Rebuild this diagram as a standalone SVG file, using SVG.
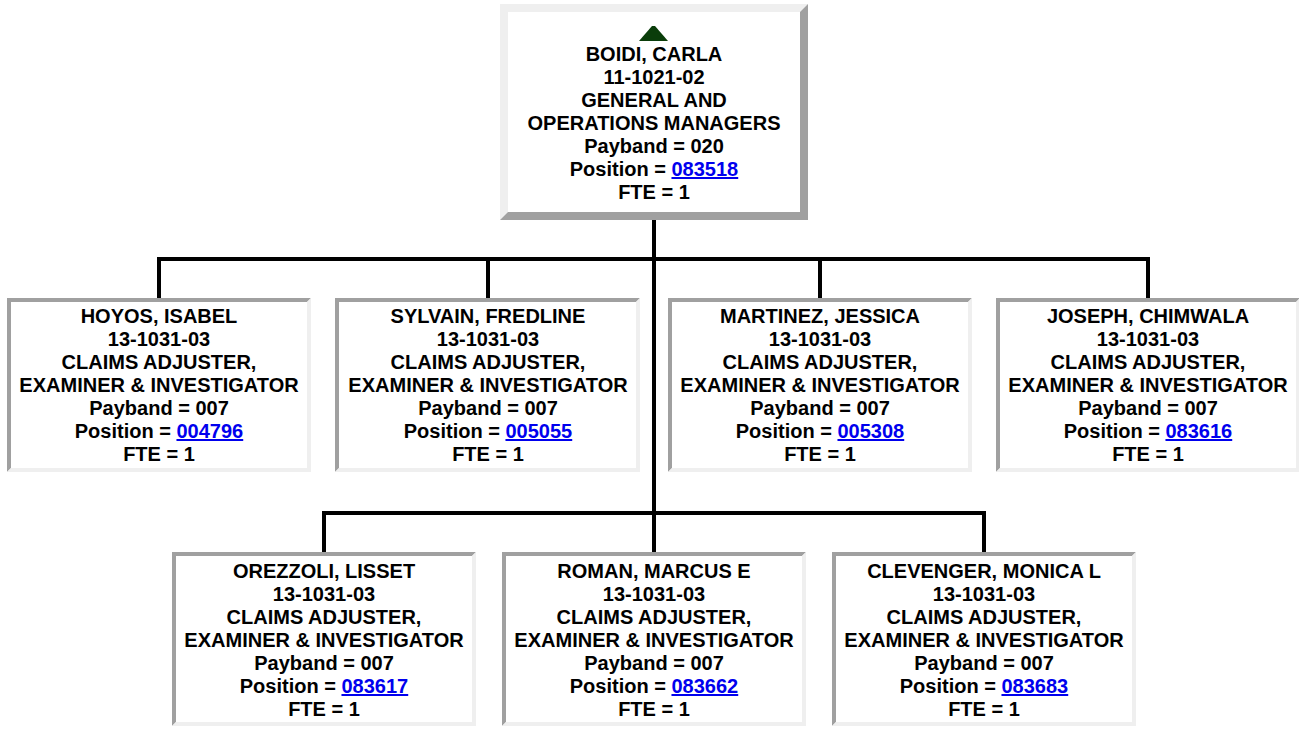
<svg xmlns="http://www.w3.org/2000/svg" width="1299" height="729" viewBox="0 0 1299 729">
<style>
.lt{fill:#efefef}
.dk{fill:#a0a0a0}
.bg{fill:#ffffff}
text{font-family:"Liberation Sans",Arial,sans-serif;font-weight:bold;font-size:20px;fill:#000;text-anchor:middle}
.lnk{fill:#0000ee;text-decoration:underline}
.conn{fill:none;stroke:#000;stroke-width:4;stroke-linejoin:miter;stroke-linecap:butt}
</style>
<rect width="1299" height="729" fill="#fff"/>
<g id="connectors">
<path class="conn" d="M654 220 V552"/>
<path class="conn" d="M159 298 V259 H1148 V298"/>
<path class="conn" d="M488 259 V298"/>
<path class="conn" d="M820 259 V298"/>
<path class="conn" d="M324 552 V513 H984 V552"/>
</g>
<g id="node-boidi">
<rect class="bg" x="500" y="4" width="308" height="216"/>
<path class="lt" d="M500 4 H808 L800 12 H508 V212 L500 220 Z"/>
<path class="dk" d="M808 4 V220 H500 L508 212 H800 V12 Z"/>
<polygon points="639,41 668,41 655,26 652,26" fill="#0a3d0a"/>
<text x="654" y="61">BOIDI, CARLA</text>
<text x="654" y="84">11-1021-02</text>
<text x="654" y="107">GENERAL AND</text>
<text x="654" y="130">OPERATIONS MANAGERS</text>
<text x="654" y="153">Payband = 020</text>
<text x="654" y="176">Position = <tspan class="lnk">083518</tspan></text>
<text x="654" y="199">FTE = 1</text>
</g>
<g id="node-hoyos">
<rect class="bg" x="7" y="298" width="304" height="174"/>
<path class="dk" d="M7 298 H311 L307 302 H11 V468 L7 472 Z"/>
<path class="lt" d="M311 298 V472 H7 L11 468 H307 V302 Z"/>
<text x="159" y="323">HOYOS, ISABEL</text>
<text x="159" y="346">13-1031-03</text>
<text x="159" y="369">CLAIMS ADJUSTER,</text>
<text x="159" y="392">EXAMINER &amp; INVESTIGATOR</text>
<text x="159" y="415">Payband = 007</text>
<text x="159" y="438">Position = <tspan class="lnk">004796</tspan></text>
<text x="159" y="461">FTE = 1</text>
</g>
<g id="node-sylvain">
<rect class="bg" x="335" y="298" width="305" height="174"/>
<path class="dk" d="M335 298 H640 L636 302 H339 V468 L335 472 Z"/>
<path class="lt" d="M640 298 V472 H335 L339 468 H636 V302 Z"/>
<text x="488" y="323">SYLVAIN, FREDLINE</text>
<text x="488" y="346">13-1031-03</text>
<text x="488" y="369">CLAIMS ADJUSTER,</text>
<text x="488" y="392">EXAMINER &amp; INVESTIGATOR</text>
<text x="488" y="415">Payband = 007</text>
<text x="488" y="438">Position = <tspan class="lnk">005055</tspan></text>
<text x="488" y="461">FTE = 1</text>
</g>
<g id="node-martinez">
<rect class="bg" x="668" y="298" width="304" height="174"/>
<path class="dk" d="M668 298 H972 L968 302 H672 V468 L668 472 Z"/>
<path class="lt" d="M972 298 V472 H668 L672 468 H968 V302 Z"/>
<text x="820" y="323">MARTINEZ, JESSICA</text>
<text x="820" y="346">13-1031-03</text>
<text x="820" y="369">CLAIMS ADJUSTER,</text>
<text x="820" y="392">EXAMINER &amp; INVESTIGATOR</text>
<text x="820" y="415">Payband = 007</text>
<text x="820" y="438">Position = <tspan class="lnk">005308</tspan></text>
<text x="820" y="461">FTE = 1</text>
</g>
<g id="node-joseph">
<rect class="bg" x="996" y="298" width="304" height="174"/>
<path class="dk" d="M996 298 H1300 L1296 302 H1000 V468 L996 472 Z"/>
<path class="lt" d="M1300 298 V472 H996 L1000 468 H1296 V302 Z"/>
<text x="1148" y="323">JOSEPH, CHIMWALA</text>
<text x="1148" y="346">13-1031-03</text>
<text x="1148" y="369">CLAIMS ADJUSTER,</text>
<text x="1148" y="392">EXAMINER &amp; INVESTIGATOR</text>
<text x="1148" y="415">Payband = 007</text>
<text x="1148" y="438">Position = <tspan class="lnk">083616</tspan></text>
<text x="1148" y="461">FTE = 1</text>
</g>
<g id="node-orezzoli">
<rect class="bg" x="172" y="552" width="304" height="174"/>
<path class="dk" d="M172 552 H476 L472 556 H176 V722 L172 726 Z"/>
<path class="lt" d="M476 552 V726 H172 L176 722 H472 V556 Z"/>
<text x="324" y="578">OREZZOLI, LISSET</text>
<text x="324" y="601">13-1031-03</text>
<text x="324" y="624">CLAIMS ADJUSTER,</text>
<text x="324" y="647">EXAMINER &amp; INVESTIGATOR</text>
<text x="324" y="670">Payband = 007</text>
<text x="324" y="693">Position = <tspan class="lnk">083617</tspan></text>
<text x="324" y="716">FTE = 1</text>
</g>
<g id="node-roman">
<rect class="bg" x="502" y="552" width="304" height="174"/>
<path class="dk" d="M502 552 H806 L802 556 H506 V722 L502 726 Z"/>
<path class="lt" d="M806 552 V726 H502 L506 722 H802 V556 Z"/>
<text x="654" y="578">ROMAN, MARCUS E</text>
<text x="654" y="601">13-1031-03</text>
<text x="654" y="624">CLAIMS ADJUSTER,</text>
<text x="654" y="647">EXAMINER &amp; INVESTIGATOR</text>
<text x="654" y="670">Payband = 007</text>
<text x="654" y="693">Position = <tspan class="lnk">083662</tspan></text>
<text x="654" y="716">FTE = 1</text>
</g>
<g id="node-clevenger">
<rect class="bg" x="832" y="552" width="304" height="174"/>
<path class="dk" d="M832 552 H1136 L1132 556 H836 V722 L832 726 Z"/>
<path class="lt" d="M1136 552 V726 H832 L836 722 H1132 V556 Z"/>
<text x="984" y="578">CLEVENGER, MONICA L</text>
<text x="984" y="601">13-1031-03</text>
<text x="984" y="624">CLAIMS ADJUSTER,</text>
<text x="984" y="647">EXAMINER &amp; INVESTIGATOR</text>
<text x="984" y="670">Payband = 007</text>
<text x="984" y="693">Position = <tspan class="lnk">083683</tspan></text>
<text x="984" y="716">FTE = 1</text>
</g>
</svg>
